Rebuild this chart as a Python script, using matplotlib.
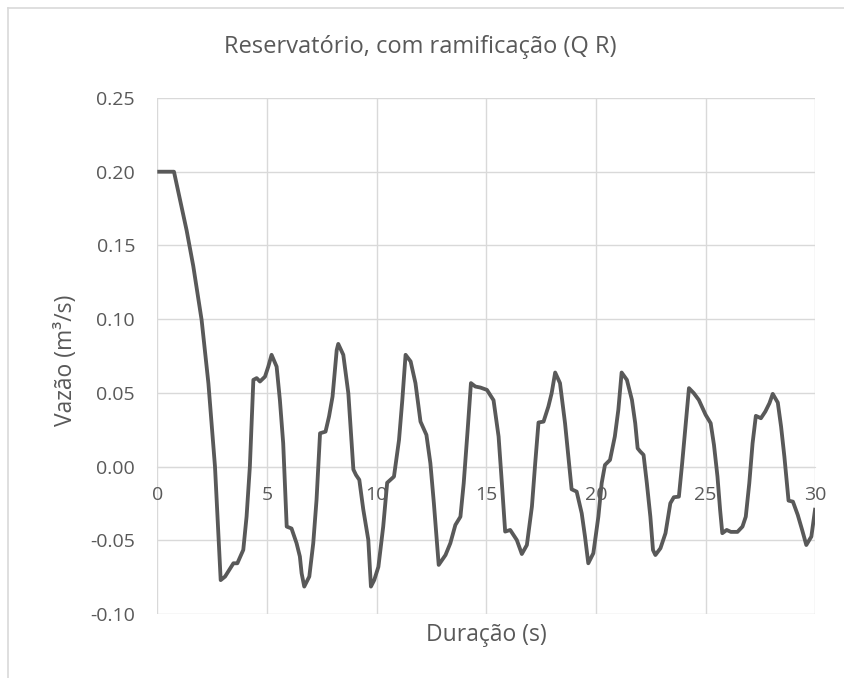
import matplotlib
matplotlib.use("Agg")
import matplotlib.pyplot as plt
from matplotlib.lines import Line2D

# dados (duração em s, vazão em m³/s)
tempo = [0.0, 0.76, 1.34, 1.64, 2.02, 2.33, 2.63, 2.78, 2.89, 3.09, 3.47, 3.65, 3.92, 4.07, 4.22,
         4.38, 4.53, 4.68, 4.91, 5.06, 5.21, 5.44, 5.59, 5.74, 5.90, 6.12, 6.35, 6.50, 6.58, 6.70,
         6.93, 7.11, 7.26, 7.42, 7.67, 7.83, 7.99, 8.18, 8.25, 8.48, 8.71, 8.94, 9.06, 9.21, 9.39,
         9.62, 9.74, 9.89, 10.08, 10.30, 10.48, 10.79, 11.02, 11.17, 11.32, 11.55, 11.77, 12.00,
         12.27, 12.45, 12.61, 12.83, 13.14, 13.36, 13.59, 13.82, 13.97, 14.15, 14.30, 14.50, 14.73,
         15.03, 15.33, 15.56, 15.71, 15.86, 16.09, 16.39, 16.62, 16.85, 17.08, 17.23, 17.38, 17.61,
         17.83, 17.98, 18.14, 18.36, 18.59, 18.74, 18.89, 19.12, 19.35, 19.50, 19.65, 19.88, 20.11,
         20.26, 20.41, 20.64, 20.86, 21.02, 21.17, 21.41, 21.64, 21.79, 21.90, 22.02, 22.17, 22.32,
         22.48, 22.60, 22.71, 22.94, 23.17, 23.39, 23.55, 23.78, 23.93, 24.08, 24.24, 24.46, 24.69,
         25.00, 25.23, 25.38, 25.54, 25.66, 25.76, 25.96, 26.15, 26.45, 26.68, 26.83, 26.99, 27.14,
         27.29, 27.52, 27.72, 27.91, 28.06, 28.29, 28.44, 28.59, 28.78, 28.98, 29.20, 29.40, 29.59,
         29.82, 30.00]
vazao = [0.200, 0.200, 0.160, 0.136, 0.0995, 0.0565, 0.0, -0.045, -0.077, -0.0746, -0.0656, -0.0656,
         -0.0565, -0.034, 0.0, 0.0588, 0.060, 0.0577, 0.061, 0.0678, 0.0758, 0.0678, 0.045, 0.0158,
         -0.0407, -0.042, -0.052, -0.061, -0.0724, -0.0814, -0.0746, -0.052, -0.0226, 0.0226, 0.0237,
         0.034, 0.0475, 0.079, 0.0832, 0.0758, 0.0497, -0.002, -0.0057, -0.009, -0.029, -0.0497,
         -0.0814, -0.077, -0.068, -0.0407, -0.011, -0.0068, 0.018, 0.045, 0.0758, 0.0713, 0.0566,
         0.0305, 0.0215, 0.0023, -0.0249, -0.0667, -0.060, -0.052, -0.0396, -0.034, -0.0113, 0.0249,
         0.0566, 0.0543, 0.0536, 0.052, 0.045, 0.0204, -0.0113, -0.0441, -0.043, -0.0498, -0.0593,
         -0.0532, -0.0271, 0.0023, 0.0299, 0.0305, 0.0407, 0.0498, 0.0638, 0.0566, 0.0294, 0.0068,
         -0.0154, -0.017, -0.0317, -0.0475, -0.0656, -0.0588, -0.0339, -0.0113, 0.0011, 0.0045,
         0.0204, 0.0385, 0.0638, 0.0588, 0.0452, 0.0294, 0.0124, 0.0102, 0.0079, -0.0113, -0.034,
         -0.0566, -0.060, -0.0554, -0.0452, -0.0249, -0.0208, -0.0204, 0.0023, 0.0271, 0.0532,
         0.0498, 0.0452, 0.0351, 0.0294, 0.0147, -0.0068, -0.0294, -0.0452, -0.043, -0.0443,
         -0.0443, -0.0407, -0.034, -0.0113, 0.0158, 0.0344, 0.0328, 0.0373, 0.043, 0.0493, 0.0434,
         0.0271, 0.0068, -0.0231, -0.0238, -0.0328, -0.043, -0.0532, -0.0475, -0.028]
xticks = [0, 5, 10, 15, 20, 25, 30]
yticks = [-0.10, -0.05, 0.00, 0.05, 0.10, 0.15, 0.20, 0.25]

plt.rcParams['font.family'] = ['Open Sans', 'DejaVu Sans']
cinza = '#595959'
grade = '#D9D9D9'

W, H = 844, 678
fig = plt.figure(figsize=(W / 100, H / 100), dpi=100)
ax = fig.add_axes([157.3 / W, 1 - 614 / H, (815.3 - 157.3) / W, (614 - 98) / H])

ax.plot(tempo, vazao, color=cinza, linewidth=2.75, solid_joinstyle='round',
        solid_capstyle='butt', zorder=3, clip_on=True)

ax.set_xlim(0, 30)
ax.set_ylim(-0.10, 0.25)
ax.set_xticks(xticks)
ax.set_yticks(yticks)
ax.set_yticklabels([f'{v:.2f}' for v in yticks])
ax.grid(True, color=grade, linewidth=1.0)
ax.set_axisbelow(True)

for s in ['top', 'right', 'left']:
    ax.spines[s].set_visible(False)
ax.spines['bottom'].set_position(('data', 0))
ax.spines['bottom'].set_color(grade)
ax.tick_params(axis='both', length=0, labelsize=14, labelcolor=cinza)
ax.tick_params(axis='x', pad=14)
ax.tick_params(axis='y', pad=16)

fig.text(420 / W, 1 - 47 / H, 'Reservatório, com ramificação (Q R)', fontsize=17,
         color=cinza, ha='center', va='center')
fig.text(66 / W, 1 - 360 / H, 'Vazão (m³/s)', fontsize=16.5, color=cinza,
         ha='center', va='center', rotation=90)
fig.text(486 / W, 1 - 635 / H, 'Duração (s)', fontsize=16.5, color=cinza,
         ha='center', va='center')

# borda da área do gráfico
fig.add_artist(Line2D([8 / W, 1], [1 - 8 / H, 1 - 8 / H], color=grade, linewidth=1.2))
fig.add_artist(Line2D([8 / W, 8 / W], [0, 1 - 8 / H], color=grade, linewidth=1.2))

fig.savefig('out.png', dpi=100)
